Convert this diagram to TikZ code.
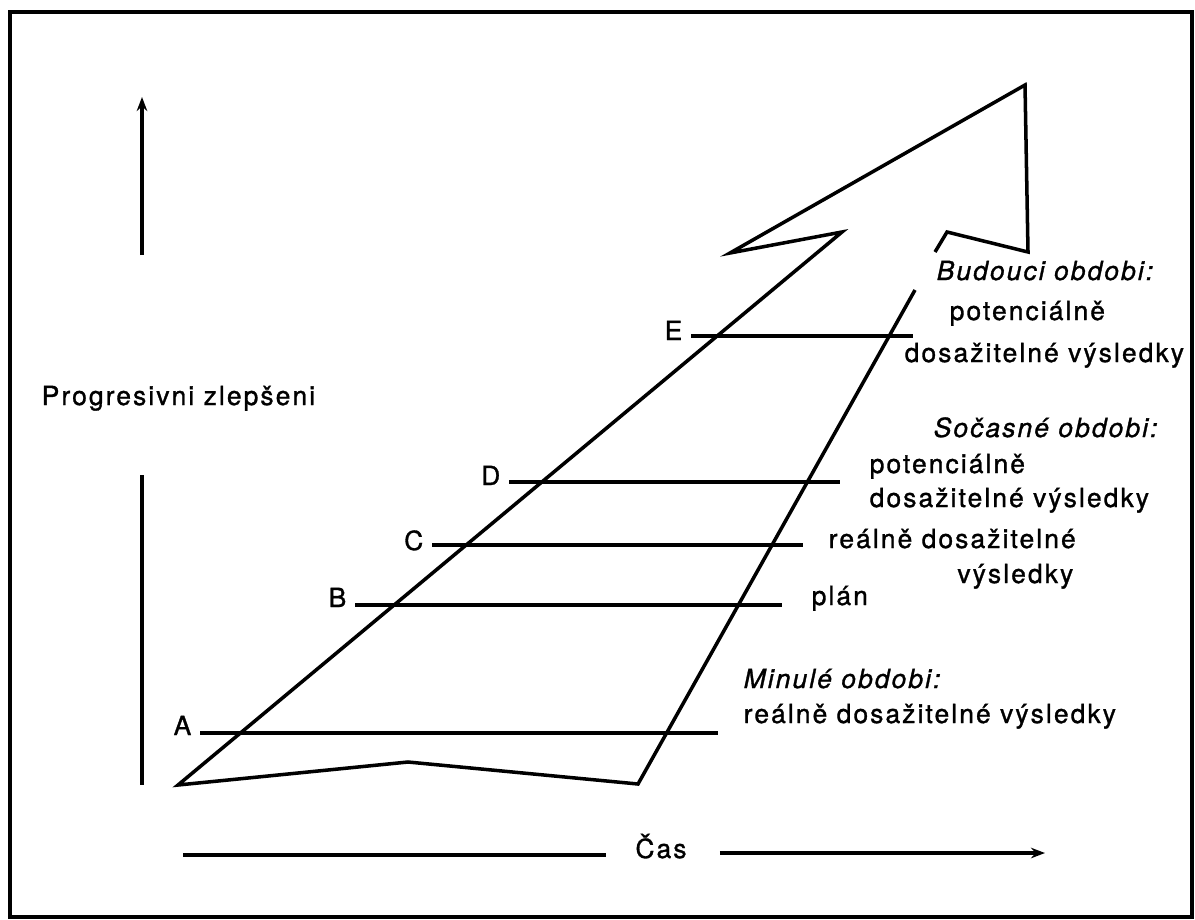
\documentclass[tikz,border=0pt]{standalone}
\usepackage{fontspec}
\setmainfont{TeX Gyre Heros}[LetterSpace=8, FakeBold=1.2]
\usetikzlibrary{arrows.meta,positioning}
\tikzset{
  >=stealth,
  line cap=round,
  line join=round,
  every picture/.style={line width=2pt},
  lbl/.style={inner sep=0pt, font=\fontsize{15}{18}\selectfont},
  txt/.style={lbl, anchor=base west},
  period/.style={txt, font=\fontsize{15}{18}\selectfont\itshape},
  rung/.style={line width=1.8pt},
  axis/.style={-{Stealth[length=8pt,width=6pt]}},
}
\begin{document}
\begin{tikzpicture}[x=0.02cm, y=-0.02cm]
  \useasboundingbox (0,0) rectangle (1195,919);
  \draw (10,12) rectangle (1192,917);

  % the big arrow
  \coordinate (bl) at (178,785);
  \coordinate (peak) at (408,762);
  \coordinate (br) at (638,784);
  \coordinate (shaftR) at (915,290);
  \coordinate (notchL) at (842,232);
  \coordinate (barbL) at (730,253);
  \coordinate (tip) at (1025,85);
  \coordinate (barbR) at (1028,252);
  \coordinate (notchR) at (947,232);
  \coordinate (endR) at (935,252);
  \draw (endR) -- (notchR) -- (barbR) -- (tip) -- (barbL) -- (notchL)
    -- (bl) -- (peak) -- (br) -- (shaftR);

  % rungs
  \node[lbl, anchor=base east] (A) at (193,735) {A};
  \node[lbl, anchor=base east] (B) at (348,607) {B};
  \node[lbl, anchor=base east] (C) at (425,550) {C};
  \node[lbl, anchor=base east] (D) at (502,485) {D};
  \node[lbl, anchor=base east] (E) at (684,340) {E};
  \coordinate (Aend) at (718,733);
  \coordinate (Bend) at (782,605);
  \coordinate (Cend) at (803,545);
  \coordinate (Dend) at (840,482);
  \coordinate (Eend) at (913,336);
  \foreach \r in {A,B,C,D,E}
    \draw[rung] ([xshift=4pt]\r.east |- \r end) -- (\r end);

  % texts on the right
  \node[period] (fut) at (935,280) {Budouci obdobi:};
  \node[txt] (fut1) at (948,320) {potenciálně};
  \node[txt] (fut2) at (903,362) {dosažitelné výsledky};
  \node[period] (now) at (932,437) {Sočasné obdobi:};
  \node[txt] (now1) at (868,473) {potenciálně};
  \node[txt] (now2) at (868,507) {dosažitelné výsledky};
  \node[txt] (now3) at (827,548) {reálně dosažitelné};
  \node[lbl, anchor=base east] (now4) at (1075,583) {výsledky};
  \node[txt] (plan) at (810,605) {plán};
  \node[period] (past) at (742,688) {Minulé obdobi:};
  \node[txt] (past1) at (742,723) {reálně dosažitelné výsledky};

  % axes
  \node[txt] (prog) at (40,405) {Progresivni zlepšeni};
  \coordinate (vtop) at (142,97);
  \coordinate (vgapT) at (142,255);
  \coordinate (vgapB) at (142,475);
  \coordinate (vbot) at (142,785);
  \draw[axis] (vgapT) -- (vtop);
  \draw (vgapB) -- (vbot);

  \node[lbl, anchor=base] (cas) at (661,858) {Čas};
  \coordinate (casL) at (183,855);
  \coordinate (casR) at (1045,853);
  \draw (casL) -- ([xshift=-16pt]cas.west |- casL);
  \draw[axis] ([xshift=18pt]cas.east |- casR) -- (casR);
\end{tikzpicture}
\end{document}
